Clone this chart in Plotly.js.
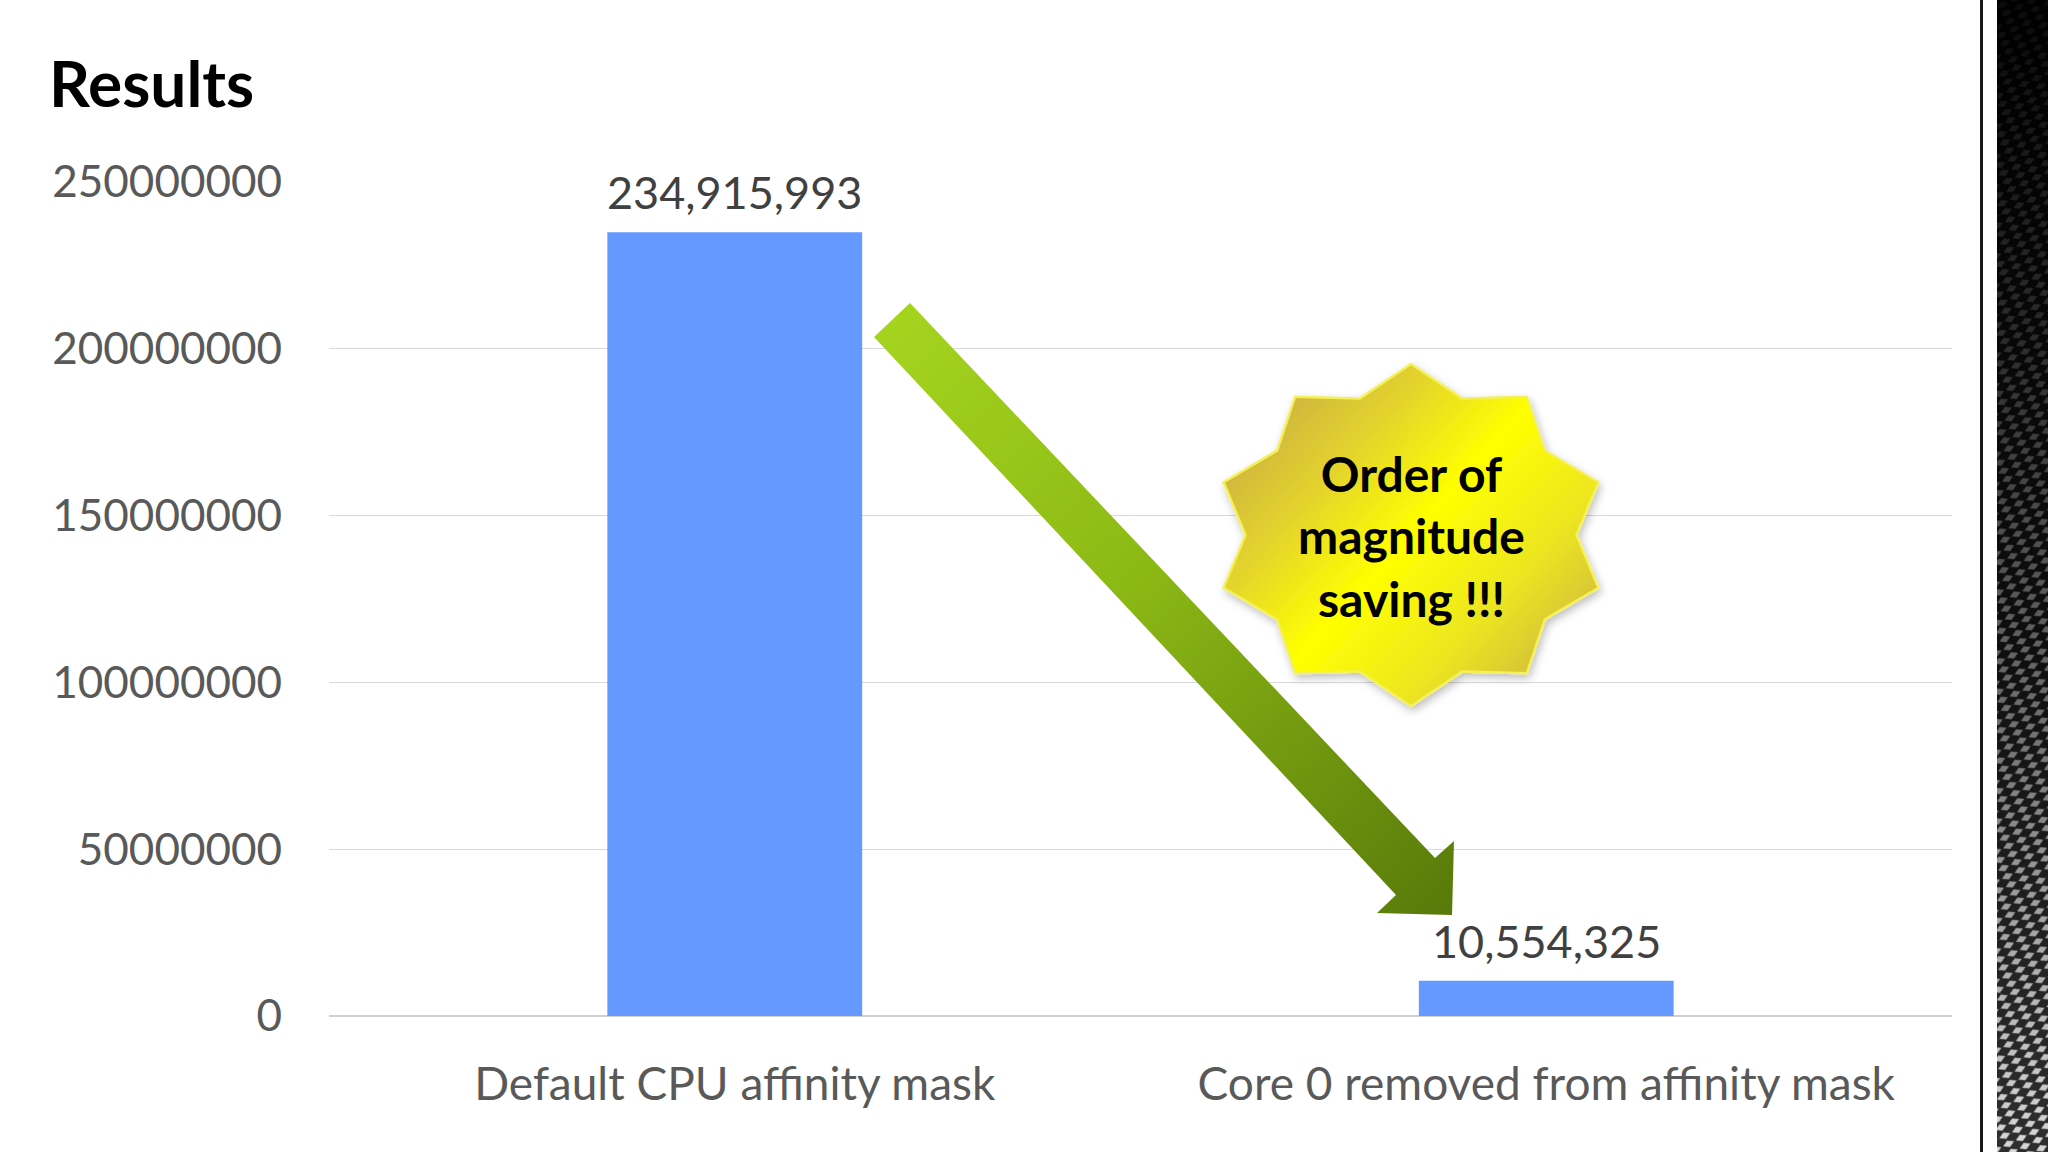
<!DOCTYPE html>
<html>
<head>
<meta charset="utf-8">
<script src="https://cdn.plot.ly/plotly-3.0.1.min.js"></script>
<style>
  html, body { margin: 0; padding: 0; background: #ffffff; }
  #chart { width: 2048px; height: 1152px; }
</style>
</head>
<body>
<div id="chart"></div>
<script>
// ---- Data ----
const categories = ["Default CPU affinity mask", "Core 0 removed from affinity mask"];
const values = [234915993, 10554325];
const yTickValues = [0, 50000000, 100000000, 150000000, 200000000, 250000000];
const chartTitle = "Results";
const badgeLines = ["Order of", "magnitude", "saving !!!"];

// ---- Layout geometry (pixels) ----
const W = 2048, H = 1152;
const M = { l: 329, r: 96, t: 182, b: 136 };
const plotW = W - M.l - M.r, plotH = H - M.t - M.b;
const px2paperX = px => (px - M.l) / plotW;
const px2paperY = py => (H - M.b - py) / plotH;

const FONT = "Lato, 'Open Sans', sans-serif";

// ---- Decorations drawn as one SVG overlay in pixel space ----
function starPath(cx, cy, rx, ry, ratio, n) {
  const pts = [];
  for (let i = 0; i < 2 * n; i++) {
    const a = Math.PI / 2 + i * Math.PI / n;
    const k = (i % 2 === 0) ? 1 : ratio;
    pts.push((cx + rx * k * Math.cos(a)).toFixed(1) + "," + (cy - ry * k * Math.sin(a)).toFixed(1));
  }
  return "M" + pts.join(" L") + " Z";
}
const star = starPath(1411, 535, 197, 171, 0.84, 10);
const arrowPts = "910,303 1435,858 1454,841 1452,915 1377,913 1396,895 874,337";

const svg = `<svg xmlns='http://www.w3.org/2000/svg' width='${W}' height='${H}' viewBox='0 0 ${W} ${H}'>
<defs>
<linearGradient id='ag' gradientUnits='userSpaceOnUse' x1='880' y1='310' x2='1450' y2='910'>
<stop offset='0' stop-color='#a6d51f'/><stop offset='0.45' stop-color='#8cb815'/><stop offset='1' stop-color='#587a0a'/>
</linearGradient>
<linearGradient id='sg' gradientUnits='userSpaceOnUse' x1='1230' y1='370' x2='1590' y2='700'>
<stop offset='0' stop-color='#bfa04c'/><stop offset='0.3' stop-color='#e4d42c'/><stop offset='0.5' stop-color='#ffff00'/><stop offset='0.72' stop-color='#ece620'/><stop offset='1' stop-color='#c4a84a'/>
</linearGradient>
<filter id='sh' x='-20%' y='-20%' width='140%' height='140%'><feDropShadow dx='2' dy='4' stdDeviation='4' flood-color='#000' flood-opacity='0.25'/></filter>
<linearGradient id='pg' x1='0' y1='0' x2='0' y2='1'>
<stop offset='0' stop-color='#000'/><stop offset='0.55' stop-color='#0e0e0e'/><stop offset='1' stop-color='#2e2e2e'/>
</linearGradient>
<linearGradient id='pm' x1='0' y1='0' x2='0' y2='1'>
<stop offset='0' stop-color='#fff' stop-opacity='0.05'/><stop offset='0.3' stop-color='#fff' stop-opacity='0.18'/><stop offset='0.65' stop-color='#fff' stop-opacity='0.5'/><stop offset='1' stop-color='#fff' stop-opacity='1'/>
</linearGradient>
<pattern id='pp' width='14' height='9' patternUnits='userSpaceOnUse' patternTransform='rotate(-25)'>
<path d='M1 4.5 L7 1 L13 4.5 L7 8 Z' fill='#d8d8d8'/>
</pattern>
<mask id='mk'><rect x='1997' y='0' width='51' height='${H}' fill='url(#pm)'/></mask>
</defs>
<polygon points='${arrowPts}' fill='url(#ag)'/>
<path d='${star}' fill='url(#sg)' stroke='#f4f05a' stroke-width='2.5' filter='url(#sh)'/>
<rect x='1980' y='0' width='3' height='${H}' fill='#1a1a1a'/>
<rect x='1997' y='0' width='51' height='${H}' fill='url(#pg)'/>
<rect x='1997' y='0' width='51' height='${H}' fill='url(#pp)' mask='url(#mk)'/>
</svg>`;
const svgURI = "data:image/svg+xml;charset=utf-8," + encodeURIComponent(svg);

// ---- Traces ----
const traces = [{
  type: "bar",
  x: categories,
  y: values,
  marker: { color: "#6699ff", line: { width: 0 } },
  hoverinfo: "x+y",
  cliponaxis: false
}];

// ---- Data labels from the arrays ----
const annotations = categories.map((c, i) => ({
  x: c, y: values[i], xref: "x", yref: "y",
  text: values[i].toLocaleString("en-US"),
  showarrow: false, yanchor: "bottom", yshift: 11,
  font: { family: FONT, size: 45, color: "#404040" }
}));

// Badge text
annotations.push({
  x: px2paperX(1411), y: px2paperY(536), xref: "paper", yref: "paper",
  text: "<b>" + badgeLines.join("<br>") + "</b>",
  showarrow: false, xanchor: "center", yanchor: "middle", align: "center",
  font: { family: FONT, size: 48, color: "#000000" }
});

const layout = {
  width: W, height: H,
  margin: M,
  paper_bgcolor: "#ffffff",
  plot_bgcolor: "#ffffff",
  showlegend: false,
  bargap: 0.686,
  title: {
    text: "<b>" + chartTitle + "</b>",
    font: { family: FONT, size: 64, color: "#000000" },
    xref: "container", yref: "container",
    x: 49 / W, xanchor: "left",
    y: 1 - 85 / H, yanchor: "middle"
  },
  xaxis: {
    type: "category",
    showgrid: false, zeroline: false, showline: false,
    ticks: "", ticklabelstandoff: 37,
    tickfont: { family: FONT, size: 46, color: "#595959" }
  },
  yaxis: {
    range: [0, 250000000],
    tickvals: yTickValues,
    tickformat: "d",
    showgrid: true, gridcolor: "#d9d9d9", gridwidth: 1.3,
    zeroline: true, zerolinecolor: "#d0d0d0", zerolinewidth: 1.5,
    showline: false, ticks: "", ticklabelstandoff: 46,
    tickfont: { family: FONT, size: 44, color: "#595959" }
  },
  images: [{
    source: svgURI,
    xref: "paper", yref: "paper",
    x: px2paperX(0), y: px2paperY(0),
    sizex: W / plotW, sizey: H / plotH,
    xanchor: "left", yanchor: "top",
    sizing: "stretch", layer: "above"
  }],
  annotations: annotations
};

Plotly.newPlot("chart", traces, layout, { displayModeBar: false });
</script>
</body>
</html>
